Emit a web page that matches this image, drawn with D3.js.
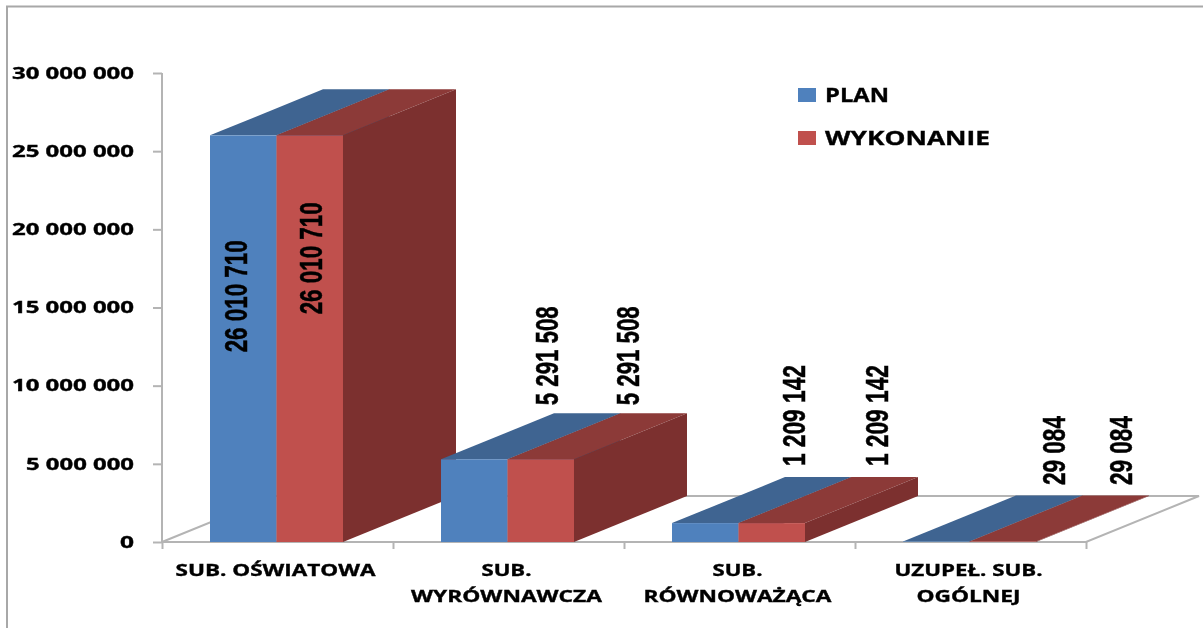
<!DOCTYPE html>
<html lang="pl">
<head>
<meta charset="utf-8">
<script src="https://cdn.jsdelivr.net/npm/d3@7"></script>
<style>
html,body{margin:0;padding:0;background:#fff;overflow:hidden}
svg{display:block;filter:blur(.7px)}
text{fill:#000;font-weight:700}
.tick-label,.cat,.legend-label{font-family:"Open Sans",sans-serif;stroke:#000;stroke-width:.35px}
.data-label{font-family:"Liberation Sans",Arial,sans-serif;stroke:#000;stroke-width:.5px}
</style>
</head>
<body>
<svg id="chart" width="1203" height="628"></svg>
<script>
// ---- data ----
const categories = ["SUB. OŚWIATOWA", "SUB. WYRÓWNAWCZA", "SUB. RÓWNOWAŻĄCA", "UZUPEŁ. SUB. OGÓLNEJ"];
const categoryLines = [["SUB. OŚWIATOWA"], ["SUB.", "WYRÓWNAWCZA"], ["SUB.", "RÓWNOWAŻĄCA"], ["UZUPEŁ. SUB.", "OGÓLNEJ"]];
const seriesNames = ["PLAN", "WYKONANIE"];
const planValues = [26010710, 5291508, 1209142, 29084];
const actualValues = [26010710, 5291508, 1209142, 29084];
const yTicks = [0, 5000000, 10000000, 15000000, 20000000, 25000000, 30000000];

// ---- layout and style ----
const W = 1203, H = 628;
const plot = {left: 162, right: 1086, top: 73, bottom: 542};
const depth = {dx: 113, dy: -46};
const palette = [
  {front: "#4F81BD", top: "#3F6491", side: "#39597F"},
  {front: "#C0504D", top: "#8C3A38", side: "#7C302F"}
];
const gray = "#B4B4B4";
// [x from bar centre, gap between bar top and text start], per series then category
const pointLabelNudge = [
  [[4, -217], [84, 54], [100, 57], [129, 56.5]],
  [[12, -179], [98, 54], [116, 57], [129, 56.5]]
];
const labelLengths = {"26 010 710": 112, "5 291 508": 99, "1 209 142": 101, "29 084": 69};
const catLengths = {"SUB. OŚWIATOWA": 200, "SUB.": 50, "WYRÓWNAWCZA": 191, "RÓWNOWAŻĄCA": 188, "UZUPEŁ. SUB.": 148, "OGÓLNEJ": 104};

const svg = d3.select("#chart");
const y = d3.scaleLinear().domain([0, 30000000]).range([plot.bottom, plot.top]);
const x0 = d3.scaleBand().domain(categories).range([plot.left, plot.right]).paddingInner(0).paddingOuter(0);
const x1 = d3.scaleBand().domain(seriesNames)
  .range([-1, x0.bandwidth() - 1]).paddingInner(0).paddingOuter(0.737);
const spaced = d => d3.format(",")(d).replace(/,/g, " ");
const poly = pts => d3.line()(pts) + "Z";

// outer frame
svg.append("path").attr("d", d3.line()([[7, H], [7, 6.5], [W, 6.5]]))
  .attr("fill", "none").attr("stroke", "#A8A8A8").attr("stroke-width", 2);

// floor
svg.append("path")
  .attr("d", poly([[plot.left, plot.bottom], [plot.right, plot.bottom],
                   [plot.right + depth.dx, plot.bottom + depth.dy], [plot.left + depth.dx, plot.bottom + depth.dy]]))
  .attr("fill", "#fff").attr("stroke", gray).attr("stroke-width", 2);

// y axis
const gy = svg.append("g").attr("transform", `translate(${plot.left},0)`)
  .call(d3.axisLeft(y).tickValues(yTicks).tickFormat(spaced).tickSize(9).tickPadding(18));
gy.selectAll("path,line").attr("stroke", gray).attr("stroke-width", 2);
gy.select(".domain").attr("d", `M0,${plot.top}V${plot.bottom}`);
gy.selectAll("text").attr("class", "tick-label").attr("font-size", 16)
  .attr("x", -28).attr("dy", "0.33em").attr("fill", "#000")
  .attr("textLength", d => d === 0 ? 14 : (d >= 10000000 ? 122 : 108))
  .attr("lengthAdjust", "spacingAndGlyphs");

// x axis ticks at category boundaries
const xEdge = d3.scaleLinear().domain([0, 4]).range([plot.left, plot.right]);
const gx = svg.append("g").attr("transform", `translate(0,${plot.bottom})`)
  .call(d3.axisBottom(xEdge).ticks(4).tickFormat("").tickSize(7));
gx.selectAll("path,line").attr("stroke", gray).attr("stroke-width", 2);
gx.select(".domain").remove();

// bars
const rows = categories.flatMap((c, i) => [
  {c, i, s: 0, v: planValues[i]},
  {c, i, s: 1, v: actualValues[i]}
]);
const bars = svg.append("g").selectAll("g").data(rows).join("g");
const geom = d => {
  const a = x0(d.c) + x1(seriesNames[d.s]), b = a + x1.bandwidth();
  return {a, b, t: y(d.v), z: y(0)};
};
bars.append("path").attr("fill", d => palette[d.s].top).attr("d", d => {
  const g = geom(d);
  return poly([[g.a, g.t], [g.b, g.t], [g.b + depth.dx, g.t + depth.dy], [g.a + depth.dx, g.t + depth.dy]]);
});
bars.append("path").attr("fill", d => palette[d.s].side).attr("d", d => {
  const g = geom(d);
  return poly([[g.b, g.t], [g.b + depth.dx, g.t + depth.dy], [g.b + depth.dx, g.z + depth.dy], [g.b, g.z]]);
});
bars.append("rect").attr("fill", d => palette[d.s].front)
  .attr("x", d => geom(d).a).attr("y", d => geom(d).t)
  .attr("width", x1.bandwidth()).attr("height", d => y(0) - y(d.v));

// data labels (rotated)
svg.append("g").selectAll("text").data(rows).join("text")
  .attr("class", "data-label")
  .attr("font-size", 31)
  .attr("text-anchor", "start")
  .attr("textLength", d => labelLengths[spaced(d.v)])
  .attr("lengthAdjust", "spacingAndGlyphs")
  .attr("transform", d => {
    const g = geom(d), n = pointLabelNudge[d.s][d.i];
    return `translate(${(g.a + g.b) / 2 + n[0]},${g.t - n[1]}) rotate(-90)`;
  })
  .text(d => spaced(d.v));

// category labels
const catG = svg.append("g").selectAll("g").data(categories).join("g")
  .attr("transform", c => `translate(${x0(c) + x0.bandwidth() / 2 - 2},0)`);
catG.selectAll("text").data((c, i) => categoryLines[i].map((t, j) => ({t, j}))).join("text")
  .attr("class", "cat").attr("font-size", 16).attr("text-anchor", "middle")
  .attr("y", d => 575.5 + d.j * 26)
  .attr("textLength", d => catLengths[d.t]).attr("lengthAdjust", "spacingAndGlyphs")
  .text(d => d.t);

// legend
const legend = svg.append("g").selectAll("g").data(seriesNames).join("g")
  .attr("transform", (d, i) => `translate(798,${88 + i * 43})`);
legend.append("rect").attr("width", 18).attr("height", 14).attr("fill", (d, i) => palette[i].front);
legend.append("text").attr("class", "legend-label").attr("x", 27).attr("y", 14)
  .attr("font-size", 20)
  .attr("textLength", (d, i) => i === 0 ? 64 : 165).attr("lengthAdjust", "spacingAndGlyphs")
  .text(d => d);
</script>
</body>
</html>
